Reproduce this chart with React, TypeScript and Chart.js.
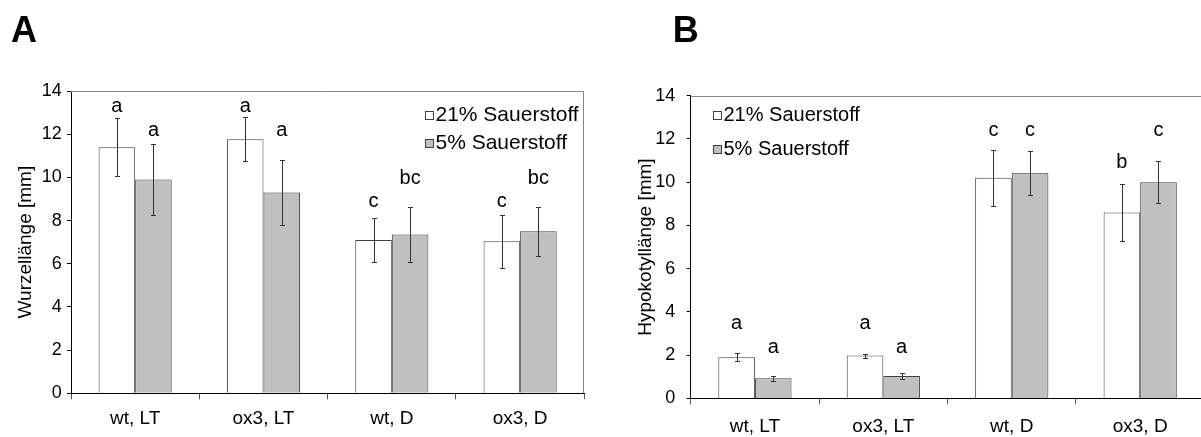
import React, { useEffect, useRef } from "react";
import { Chart, registerables } from "chart.js";

Chart.register(...registerables);

// ---------- data ----------
const categories = ["wt, LT", "ox3, LT", "wt, D", "ox3, D"];
const seriesLabels = ["21% Sauerstoff", "5% Sauerstoff"];
const yMin = 0;
const yMax = 14;
const yStep = 2;

// Panel A: Wurzellänge [mm]
const rootO21 = [11.4, 11.77, 7.1, 7.04];
const rootO21Err = [1.33, 1.01, 1.0, 1.23];
const rootO5 = [9.9, 9.3, 7.36, 7.5];
const rootO5Err = [1.63, 1.52, 1.27, 1.12];
const rootO21Letters = ["a", "a", "c", "c"];
const rootO5Letters = ["a", "a", "bc", "bc"];
const rootO21LetterY = [13.04, 13.04, 8.61, 8.61];
const rootO5LetterY = [11.93, 11.93, 9.68, 9.68];

// Panel B: Hypokotyllänge [mm]
const hypoO21 = [1.9, 1.98, 10.2, 8.6];
const hypoO21Err = [0.18, 0.09, 1.3, 1.31];
const hypoO5 = [0.93, 1.04, 10.44, 10.0];
const hypoO5Err = [0.11, 0.12, 1.02, 0.97];
const hypoO21Letters = ["a", "a", "c", "b"];
const hypoO5Letters = ["a", "a", "c", "c"];
const hypoO21LetterY = [3.2, 3.2, 12.15, 10.65];
const hypoO5LetterY = [2.09, 2.09, 12.15, 12.15];

// ---------- styling ----------
const FONT = "'Liberation Sans', Arial, Helvetica, sans-serif";
const FILL21 = "#ffffff";
const FILL5 = "#c0c0c0";
const BAR_BORDER = "#404040";

// ---------- plugins ----------
const errorBarsPlugin = {
  id: "errorBars",
  afterDatasetsDraw(chart: any) {
    const { ctx } = chart;
    const ys = chart.scales.y;
    chart.data.datasets.forEach((ds: any, i: number) => {
      const meta = chart.getDatasetMeta(i);
      meta.data.forEach((bar: any, j: number) => {
        const v = ds.data[j];
        const e = ds.errors[j];
        const x = Math.round(bar.x) + 0.5;
        const yt = Math.round(ys.getPixelForValue(v + e)) + 0.5;
        const yb = Math.round(ys.getPixelForValue(v - e)) + 0.5;
        ctx.save();
        ctx.strokeStyle = "#333333";
        ctx.lineWidth = 1;
        ctx.beginPath();
        ctx.moveTo(x, yt);
        ctx.lineTo(x, yb);
        ctx.moveTo(x - 2.5, yt);
        ctx.lineTo(x + 2.5, yt);
        ctx.moveTo(x - 2.5, yb);
        ctx.lineTo(x + 2.5, yb);
        ctx.stroke();
        ctx.restore();
      });
    });
  },
};

const lettersPlugin = {
  id: "sigLetters",
  afterDatasetsDraw(chart: any) {
    const { ctx } = chart;
    const ys = chart.scales.y;
    chart.data.datasets.forEach((ds: any, i: number) => {
      const meta = chart.getDatasetMeta(i);
      meta.data.forEach((bar: any, j: number) => {
        ctx.save();
        ctx.fillStyle = "#000";
        ctx.font = `20px ${FONT}`;
        ctx.textAlign = "center";
        ctx.textBaseline = "alphabetic";
        ctx.fillText(ds.letters[j], bar.x, ys.getPixelForValue(ds.letterY[j]));
        ctx.restore();
      });
    });
  },
};

const framePlugin = {
  id: "frame",
  beforeDatasetsDraw(chart: any) {
    const { ctx, chartArea } = chart;
    ctx.save();
    ctx.strokeStyle = "#868686";
    ctx.lineWidth = 1;
    ctx.beginPath();
    const t = Math.round(chartArea.top) + 0.5;
    const r = Math.round(chartArea.right) - 0.5;
    ctx.moveTo(chartArea.left, t);
    ctx.lineTo(r, t);
    ctx.lineTo(r, chartArea.bottom);
    ctx.stroke();
    ctx.restore();
  },
};

const boxLegendPlugin = {
  id: "boxLegend",
  afterDraw(chart: any, _args: any, opts: any) {
    const { ctx, chartArea } = chart;
    const x0 = opts.fromRight ? chartArea.right - opts.dx : chartArea.left + opts.dx;
    chart.data.datasets.forEach((ds: any, i: number) => {
      const cy = chartArea.top + opts.dy + i * opts.rowGap;
      const bx = Math.round(x0) + 0.5;
      const by = Math.round(cy - opts.box / 2) + 0.5;
      ctx.save();
      ctx.fillStyle = ds.backgroundColor;
      ctx.fillRect(bx, by, opts.box, opts.box);
      ctx.strokeStyle = "#404040";
      ctx.lineWidth = 1;
      ctx.strokeRect(bx, by, opts.box, opts.box);
      ctx.fillStyle = "#000";
      ctx.font = `${opts.fontSize}px ${FONT}`;
      ctx.textAlign = "left";
      ctx.textBaseline = "middle";
      ctx.fillText(ds.label, bx + opts.box + 2, cy);
      ctx.restore();
    });
  },
};

const panelLabelPlugin = {
  id: "panelLabel",
  afterDraw(chart: any, _args: any, opts: any) {
    const { ctx } = chart;
    ctx.save();
    ctx.fillStyle = "#000";
    ctx.font = `bold ${opts.size}px ${FONT}`;
    ctx.textAlign = "left";
    ctx.textBaseline = "alphabetic";
    ctx.fillText(opts.text, opts.x, opts.y);
    ctx.restore();
  },
};

type PanelSpec = {
  label: string;
  yTitle: string;
  v21: number[];
  e21: number[];
  v5: number[];
  e5: number[];
  l21: string[];
  l5: string[];
  ly21: number[];
  ly5: number[];
  yScaleWidth: number;
  xScaleHeight: number;
  padTop: number;
  padRight: number;
  yTitlePad: number;
  yTickPad: number;
  xTickPad: number;
  legend: any;
  labelX: number;
};

function makeConfig(p: PanelSpec): any {
  return {
    type: "bar",
    data: {
      labels: categories,
      datasets: [
        {
          label: seriesLabels[0],
          data: p.v21,
          errors: p.e21,
          letters: p.l21,
          letterY: p.ly21,
          backgroundColor: FILL21,
          borderColor: BAR_BORDER,
          borderWidth: 1,
        },
        {
          label: seriesLabels[1],
          data: p.v5,
          errors: p.e5,
          letters: p.l5,
          letterY: p.ly5,
          backgroundColor: FILL5,
          borderColor: BAR_BORDER,
          borderWidth: 1,
        },
      ],
    },
    options: {
      responsive: false,
      animation: false,
      devicePixelRatio: 1,
      layout: { padding: { left: 0, top: p.padTop, right: p.padRight, bottom: 0 } },
      datasets: { bar: { barPercentage: 1, categoryPercentage: 0.57 } },
      plugins: {
        legend: { display: false },
        tooltip: { enabled: false },
        title: { display: false },
        boxLegend: p.legend,
        panelLabel: { text: p.label, x: p.labelX, y: 42, size: 36 },
      },
      scales: {
        x: {
          type: "category",
          offset: true,
          grid: {
            display: true,
            offset: true,
            drawOnChartArea: false,
            drawTicks: true,
            tickLength: 6,
            color: "#555",
          },
          border: { display: true, color: "#000", width: 1 },
          ticks: {
            color: "#000",
            font: { family: FONT, size: 19 },
            padding: p.xTickPad,
            maxRotation: 0,
            autoSkip: false,
          },
          afterFit: (s: any) => {
            s.height = p.xScaleHeight;
          },
        },
        y: {
          min: yMin,
          max: yMax,
          ticks: {
            stepSize: yStep,
            color: "#000",
            font: { family: FONT, size: 18 },
            padding: p.yTickPad,
          },
          grid: {
            display: true,
            drawOnChartArea: false,
            drawTicks: true,
            tickLength: 4,
            color: "#000",
          },
          border: { display: true, color: "#000", width: 1 },
          title: {
            display: true,
            text: p.yTitle,
            color: "#000",
            font: { family: FONT, size: 19 },
            padding: { top: p.yTitlePad, bottom: 0 },
          },
          afterFit: (s: any) => {
            s.width = p.yScaleWidth;
          },
        },
      },
    },
    plugins: [framePlugin, errorBarsPlugin, lettersPlugin, boxLegendPlugin, panelLabelPlugin],
  };
}

const panelA: PanelSpec = {
  label: "A",
  yTitle: "Wurzellänge [mm]",
  v21: rootO21,
  e21: rootO21Err,
  v5: rootO5,
  e5: rootO5Err,
  l21: rootO21Letters,
  l5: rootO5Letters,
  ly21: rootO21LetterY,
  ly5: rootO5LetterY,
  yScaleWidth: 71,
  xScaleHeight: 43.7,
  padTop: 91,
  padRight: 15.7,
  yTitlePad: 14.6,
  yTickPad: 5.3,
  xTickPad: 7.6,
  legend: { fromRight: true, dx: 159.3, dy: 24, rowGap: 28.3, box: 8, fontSize: 21 },
  labelX: 11,
};

const panelB: PanelSpec = {
  label: "B",
  yTitle: "Hypokotyllänge [mm]",
  v21: hypoO21,
  e21: hypoO21Err,
  v5: hypoO5,
  e5: hypoO5Err,
  l21: hypoO21Letters,
  l5: hypoO5Letters,
  ly21: hypoO21LetterY,
  ly5: hypoO5LetterY,
  yScaleWidth: 90.7,
  xScaleHeight: 38.6,
  padTop: 95.7,
  padRight: 15.6,
  yTitlePad: 34.6,
  yTickPad: 11.4,
  xTickPad: 10.9,
  legend: { fromRight: false, dx: 22.6, dy: 19.3, rowGap: 34.3, box: 8, fontSize: 20 },
  labelX: 72.8,
};

function Panel({ spec, left, width }: { spec: PanelSpec; left: number; width: number }) {
  const ref = useRef<HTMLCanvasElement | null>(null);
  useEffect(() => {
    if (!ref.current) return;
    const chart = new Chart(ref.current, makeConfig(spec));
    return () => chart.destroy();
  }, [spec]);
  return (
    <canvas
      ref={ref}
      width={width}
      height={437}
      style={{ position: "absolute", left, top: 0, width, height: 437 }}
    />
  );
}

export default function App() {
  return (
    <div
      style={{
        position: "fixed",
        left: 0,
        top: 0,
        width: 1201,
        height: 437,
        overflow: "hidden",
        background: "#fff",
      }}
    >
      <Panel spec={panelA} left={0} width={600} />
      <Panel spec={panelB} left={600} width={620} />
    </div>
  );
}
